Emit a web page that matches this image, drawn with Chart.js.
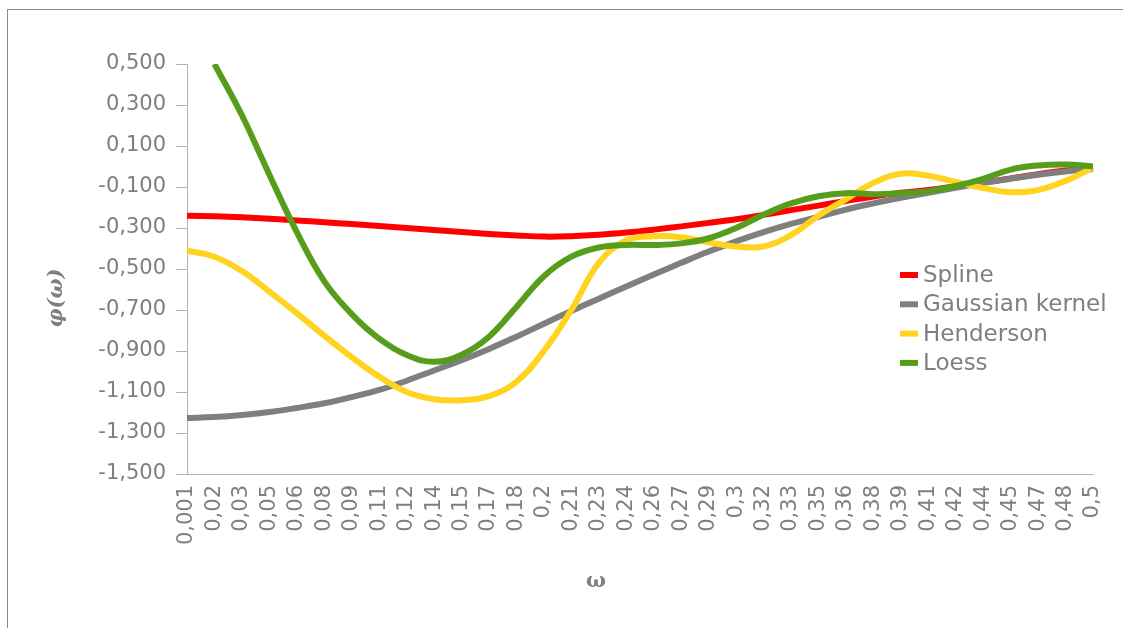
<!DOCTYPE html>
<html>
<head>
<meta charset="utf-8">
<script src="https://cdn.jsdelivr.net/npm/chart.js@4/dist/chart.umd.min.js"></script>
<style>
  html, body { margin: 0; padding: 0; background: #fff; }
  #wrap { position: relative; width: 1123px; height: 628px; }
  #frame { position: absolute; left: 7px; top: 9px; right: 0; bottom: 0;
           border-left: 1px solid #8a8a8a; border-top: 1px solid #8a8a8a; pointer-events: none; }
</style>
</head>
<body>
<div id="wrap">
  <canvas id="chart" width="1123" height="628"></canvas>
  <div id="frame"></div>
</div>
<script>
// omega values on the category axis
const omegaLabels = ['0,001', '0,02', '0,03', '0,05', '0,06', '0,08', '0,09', '0,11', '0,12', '0,14',
  '0,15', '0,17', '0,18', '0,2', '0,21', '0,23', '0,24', '0,26', '0,27', '0,29', '0,3', '0,32',
  '0,33', '0,35', '0,36', '0,38', '0,39', '0,41', '0,42', '0,44', '0,45', '0,47', '0,48', '0,5'];

const spline = [-0.240, -0.243, -0.248, -0.255, -0.263, -0.272, -0.281, -0.290, -0.300, -0.310,
  -0.320, -0.329, -0.336, -0.342, -0.340, -0.333, -0.322, -0.308, -0.292, -0.275, -0.257, -0.236,
  -0.213, -0.191, -0.168, -0.146, -0.128, -0.115, -0.097, -0.078, -0.058, -0.038, -0.020, -0.005];

const gaussian = [-1.227, -1.222, -1.212, -1.198, -1.178, -1.155, -1.125, -1.090, -1.045, -0.995,
  -0.945, -0.890, -0.830, -0.767, -0.705, -0.645, -0.585, -0.527, -0.470, -0.415, -0.365, -0.320,
  -0.280, -0.245, -0.210, -0.180, -0.153, -0.128, -0.104, -0.080, -0.060, -0.040, -0.024, -0.012];

const henderson = [-0.410, -0.440, -0.510, -0.610, -0.715, -0.825, -0.930, -1.025, -1.100, -1.135,
  -1.140, -1.120, -1.050, -0.900, -0.700, -0.470, -0.360, -0.340, -0.345, -0.370, -0.390, -0.390,
  -0.335, -0.240, -0.160, -0.080, -0.035, -0.045, -0.075, -0.105, -0.125, -0.115, -0.070, -0.005];

const loess = [null, 0.500, 0.250, -0.040, -0.320, -0.560, -0.720, -0.840, -0.920, -0.953,
  -0.918, -0.830, -0.685, -0.535, -0.440, -0.395, -0.383, -0.383, -0.375, -0.350, -0.300, -0.235,
  -0.180, -0.145, -0.130, -0.135, -0.130, -0.120, -0.095, -0.060, -0.015, 0.005, 0.010, 0.000];

const seriesNames = ['Spline', 'Gaussian kernel', 'Henderson', 'Loess'];
const seriesColors = ['#ff0000', '#7f7f7f', '#ffd320', '#579d1c'];

const textGray = '#7f7f7f';
const axisGray = '#b3b3b3';

function makeDataset(i, data) {
  return {
    label: seriesNames[i],
    data: data,
    borderColor: seriesColors[i],
    backgroundColor: seriesColors[i],
    borderWidth: 6,
    pointRadius: 0,
    tension: 0.4,
    borderCapStyle: 'butt',
    fill: false,
    order: 4 - i
  };
}

// legend and axis titles sit where the spreadsheet put them
const decorPlugin = {
  id: 'decor',
  afterDraw(chart) {
    const ctx = chart.ctx;
    const area = chart.chartArea;
    ctx.save();

    ctx.font = '23px "DejaVu Sans"';
    ctx.textBaseline = 'middle';
    ctx.textAlign = 'left';
    chart.data.datasets.forEach((ds, i) => {
      const y = 275 + i * 29.3;
      ctx.strokeStyle = ds.borderColor;
      ctx.lineWidth = 6;
      ctx.beginPath();
      ctx.moveTo(900, y);
      ctx.lineTo(918, y);
      ctx.stroke();
      ctx.fillStyle = textGray;
      ctx.fillText(ds.label, 923, y + 1);
    });

    ctx.fillStyle = textGray;
    ctx.font = 'bold 21px "DejaVu Serif"';
    ctx.textAlign = 'center';
    ctx.fillText('ω', 596, 582);

    ctx.translate(57, (area.top + area.bottom) / 2 + 29);
    ctx.rotate(-Math.PI / 2);
    ctx.font = 'italic bold 21px "DejaVu Serif"';
    ctx.fillText('φ(ω)', 0, 0);
    ctx.restore();
  }
};

new Chart(document.getElementById('chart'), {
  type: 'line',
  data: {
    labels: omegaLabels,
    datasets: [
      makeDataset(0, spline),
      makeDataset(1, gaussian),
      makeDataset(2, henderson),
      makeDataset(3, loess)
    ]
  },
  options: {
    responsive: false,
    animation: false,
    layout: { padding: { top: 64, right: 30, bottom: 0, left: 0 } },
    plugins: {
      legend: { display: false },
      tooltip: { enabled: false }
    },
    scales: {
      x: {
        offset: false,
        grid: { display: false, drawTicks: false },
        border: { display: true, color: axisGray, width: 1 },
        ticks: {
          color: textGray,
          font: { family: 'DejaVu Sans', size: 21 },
          minRotation: 90,
          maxRotation: 90,
          autoSkip: false,
          padding: 11
        },
        afterFit(scale) {
          scale.height = 154;
          scale.paddingLeft = 0;
          scale.paddingRight = 0;
        }
      },
      y: {
        min: -1.5,
        max: 0.5,
        grid: { display: true, drawOnChartArea: false, drawTicks: true, tickLength: 11, color: axisGray },
        border: { display: true, color: axisGray, width: 1 },
        ticks: {
          stepSize: 0.2,
          color: textGray,
          font: { family: 'DejaVu Sans', size: 21 },
          padding: 10,
          callback: (v) => Number(v).toFixed(3).replace('.', ',')
        },
        afterFit(scale) { scale.width = 187; }
      }
    }
  },
  plugins: [decorPlugin]
});
</script>
</body>
</html>
